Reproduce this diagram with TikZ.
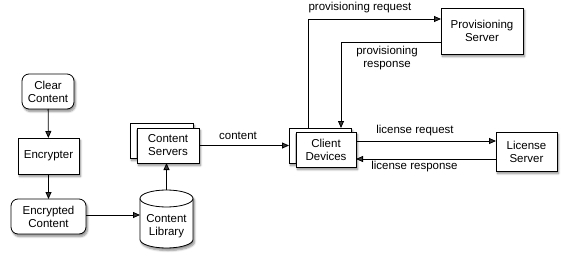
\documentclass[tikz,border=0pt]{standalone}
\usepackage{fontspec}
\setmainfont{Liberation Sans}
\usetikzlibrary{arrows.meta,shadows.blur}
\begin{document}
\begin{tikzpicture}[x=1pt,y=-1pt,
  font=\fontsize{11.5}{13}\selectfont,
  every node/.style={inner sep=0pt,outer sep=0pt,align=center},
  shad/.style={blur shadow={shadow blur steps=6,shadow xshift=1.5pt,shadow yshift=-2.5pt,shadow opacity=45,shadow blur radius=2pt}},
  box/.style={draw,fill=white,line width=0.8pt,shad},
  rbox/.style={box,rounded corners=7pt},
  conn/.style={line width=0.8pt,-{Triangle[length=7pt,width=6pt]}},
  cylr/.style={x radius=26.5pt,y radius=8.5pt}
]
\useasboundingbox (0,0) rectangle (567,262);
% left column
\node[rbox,minimum width=52pt,minimum height=35pt] (clear) at (48,91.5) {Clear\\Content};
\node[box,minimum width=61pt,minimum height=36pt] (enc) at (48.5,156) {Encrypter};
\node[rbox,minimum width=75pt,minimum height=35pt] (encd) at (48.5,216.5) {Encrypted\\Content};
% library (cylinder)
\node[minimum width=53pt,minimum height=58pt] (lib) at (166.5,219) {};
\path[draw,fill=white,line width=0.8pt,shad] (140,198.5) -- (140,239.5)
  arc[start angle=180,end angle=360,cylr] -- (193,198.5)
  arc[start angle=0,end angle=180,cylr] -- cycle;
\draw[line width=0.8pt] (140,198.5) arc[start angle=180,end angle=360,cylr];
\node (libtxt) at (166.5,226.5) {Content\\Library};
% content servers
\node[box,minimum width=63pt,minimum height=35pt] (srvback) at (161.5,140.5) {};
\node[box,minimum width=62pt,minimum height=35pt] (srv) at (168,145.5) {Content\\Servers};
% client devices
\node[box,minimum width=62pt,minimum height=35pt] (cliback) at (320,145.5) {};
\node[box,minimum width=60pt,minimum height=35pt] (cli) at (326,149.5) {Client\\Devices};
% servers
\node[box,minimum width=82pt,minimum height=46pt] (prov) at (482,31) {Provisioning\\Server};
\node[box,minimum width=61pt,minimum height=39pt] (lic) at (526.5,151.5) {License\\Server};
% coordinates
\coordinate (preqA) at (308,128);
\coordinate (presB) at (341,128);
% connectors
\draw[conn] (clear) -- (enc);
\draw[conn] (enc) -- (encd);
\draw[conn] ([yshift=1.5pt]encd.east) -- ([yshift=1.5pt]encd.east -| lib.west);
\draw[conn] (lib.north) -- (lib.north |- srv.south);
\draw[conn] (srv.east) -- (srv.east -| cliback.west);
\node at (238,136) {content};
\draw[conn] (preqA) |- ([yshift=12pt]prov.west);
\node at (360,7.5) {provisioning request};
\draw[conn] ([yshift=-11pt]prov.west) -| (presB);
\node at (387,58.5) {provisioning\\response};
\draw[conn] ([yshift=8.5pt]cli.east) -- ([yshift=8.5pt]cli.east -| lic.west);
\node at (415,131) {license request};
\draw[conn] ([yshift=-9.5pt]cli.east -| lic.west) -- ([yshift=-9.5pt]cli.east);
\node at (414.5,167) {license response};
\end{tikzpicture}
\end{document}
